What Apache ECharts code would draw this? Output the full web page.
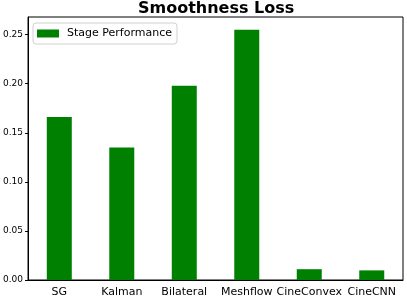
<!DOCTYPE html>
<html><head><meta charset="utf-8">
<script src="https://cdn.jsdelivr.net/npm/echarts@6/dist/echarts.min.js"></script>
<style>html,body{margin:0;padding:0;background:#fff}#c{width:407px;height:298px}</style>
</head><body><div id="c"></div>
<script>
const categories = ['SG','Kalman','Bilateral','Meshflow','CineConvex','CineCNN'];
const stagePerformance = [0.166, 0.135, 0.198, 0.255, 0.011, 0.0098];
const yTicks = [0, 0.05, 0.10, 0.15, 0.20, 0.25];

const chart = echarts.init(document.getElementById('c'));
const font = 'DejaVu Sans';
chart.setOption({
  animation: false,
  title: {text: 'Smoothness Loss', left: 138, top: -4, padding: [5, 0, 5, 0],
    textStyle: {fontFamily: font, fontWeight: 'bold', fontSize: 16, color: '#000'}},
  legend: {data: ['Stage Performance'], left: 33, top: 23, icon: 'rect', itemWidth: 22, itemHeight: 8,
    padding: [5, 5, 5, 4], itemGap: 8, borderColor: '#d0d0d0', borderWidth: 1, borderRadius: 3,
    backgroundColor: '#fff',
    textStyle: {fontFamily: font, fontSize: 11, color: '#000', padding: [0, 0, 0, 3]}},
  grid: {left: 27, right: 4, top: 17, bottom: 18, show: true, borderColor: '#000', borderWidth: 1, containLabel: false},
  xAxis: {type: 'category', data: categories, boundaryGap: true,
    axisLine: {lineStyle: {color: '#000'}},
    axisTick: {alignWithLabel: true, length: 3, lineStyle: {color: '#000'}},
    axisLabel: {fontFamily: font, fontSize: 11, color: '#000', margin: 7, interval: 0}},
  yAxis: {type: 'value', min: 0, max: 0.268,
    splitLine: {show: false},
    axisLine: {show: true, lineStyle: {color: '#000'}},
    axisTick: {show: true, length: 3, lineStyle: {color: '#000'}, customValues: yTicks},
    axisLabel: {fontFamily: font, fontSize: 9, color: '#000', margin: 5, customValues: yTicks,
      formatter: v => v.toFixed(2)}},
  series: [{name: 'Stage Performance', type: 'bar', data: stagePerformance, barWidth: 25,
    itemStyle: {color: '#008000'}}]
});
</script></body></html>
